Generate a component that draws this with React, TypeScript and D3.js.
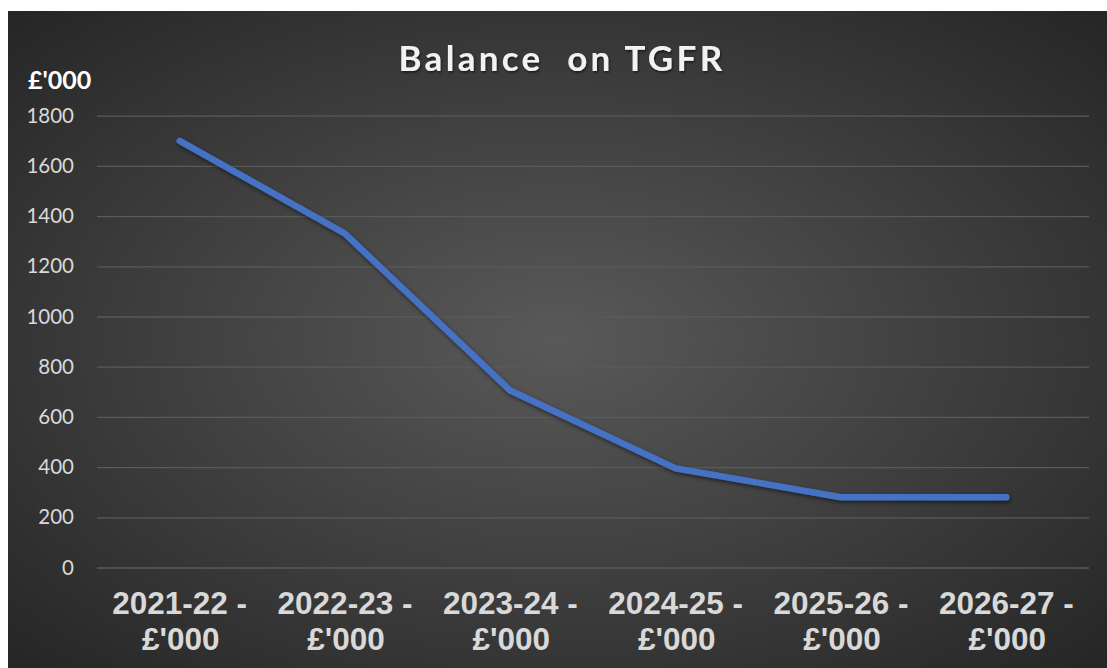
import React, { useEffect, useRef } from 'react';
import * as d3 from 'd3';

const years = ['2021-22', '2022-23', '2023-24', '2024-25', '2025-26', '2026-27'];
const balances = [1700, 1330, 705, 395, 280, 280];
const yTicks = [0, 200, 400, 600, 800, 1000, 1200, 1400, 1600, 1800];

export default function App() {
  const svgRef = useRef<SVGSVGElement>(null);

  useEffect(() => {
    if (!svgRef.current) return;
    const width = 1107;
    const height = 668;
    const frame = { left: 8, top: 11 };
    const plot = { left: 97, right: 1089, top: 115.7, bottom: 567.5 };

    const svg = d3.select(svgRef.current);
    svg.selectAll('*').remove();

    const defs = svg.append('defs');
    const grad = defs.append('radialGradient')
      .attr('id', 'bg')
      .attr('cx', '50%').attr('cy', '50%').attr('r', '70%');
    grad.append('stop').attr('offset', '0%').attr('stop-color', '#595959');
    grad.append('stop').attr('offset', '100%').attr('stop-color', '#262626');

    const shadow = defs.append('filter').attr('id', 'shadow')
      .attr('x', '-10%').attr('y', '-10%').attr('width', '120%').attr('height', '130%');
    shadow.append('feDropShadow')
      .attr('dx', 1).attr('dy', 2).attr('stdDeviation', 2)
      .attr('flood-color', '#000').attr('flood-opacity', 0.55);

    const tshadow = defs.append('filter').attr('id', 'tshadow');
    tshadow.append('feDropShadow')
      .attr('dx', 1).attr('dy', 1.5).attr('stdDeviation', 1.2)
      .attr('flood-color', '#000').attr('flood-opacity', 0.6);

    svg.append('rect')
      .attr('width', width).attr('height', height).attr('fill', '#fff');
    svg.append('rect')
      .attr('x', frame.left).attr('y', frame.top)
      .attr('width', width - frame.left).attr('height', height - frame.top)
      .attr('fill', 'url(#bg)');

    const x = d3.scaleBand()
      .domain(years)
      .range([plot.left, plot.right]);

    const y = d3.scaleLinear()
      .domain([0, 1800])
      .range([plot.bottom, plot.top]);

    // grid lines + y labels
    const yAxis = svg.append('g')
      .attr('transform', `translate(${plot.left},0)`)
      .call(d3.axisLeft(y)
        .tickValues(yTicks)
        .tickFormat(d3.format('d'))
        .tickSize(-(plot.right - plot.left))
        .tickPadding(23)
      );
    yAxis.select('.domain').remove();
    yAxis.selectAll('.tick line')
      .attr('stroke', '#5a5a5a')
      .attr('stroke-width', 1.3);
    yAxis.selectAll('.tick text')
      .style('font-family', "Lato, 'Noto Sans', sans-serif")
      .style('font-size', '20.5px')
      .style('fill', '#d9d9d9');

    // x labels
    const xLabels = svg.append('g');
    years.forEach(yr => {
      const cx = x(yr)! + x.bandwidth() / 2;
      const t = xLabels.append('text')
        .attr('text-anchor', 'middle')
        .style('font-family', "'Liberation Sans', Arial, sans-serif")
        .style('font-weight', 'bold')
        .style('font-size', '31.5px')
        .style('fill', '#d9d9d9');
      t.append('tspan').attr('x', cx).attr('y', 614).text(`${yr} -`);
      t.append('tspan').attr('x', cx + 1).attr('y', 650).text("£'000");
    });

    // line
    const line = d3.line<number>()
      .x((_, i) => x(years[i])! + x.bandwidth() / 2)
      .y(d => y(d));

    svg.append('path')
      .datum(balances)
      .attr('d', line)
      .attr('fill', 'none')
      .attr('stroke', '#4472C4')
      .attr('stroke-width', 6.5)
      .attr('stroke-linecap', 'round')
      .attr('stroke-linejoin', 'round')
      .attr('filter', 'url(#shadow)');

    // title
    svg.append('text')
      .attr('x', 562)
      .attr('y', 71)
      .attr('text-anchor', 'middle')
      .attr('filter', 'url(#tshadow)')
      .style('font-family', "Lato, 'Noto Sans', sans-serif")
      .style('font-weight', 'bold')
      .style('font-size', '35px')
      .style('letter-spacing', '3.3px')
      .style('white-space', 'pre')
      .style('fill', '#f2f2f2')
      .text('Balance  on TGFR');

    // unit label
    svg.append('text')
      .attr('x', 28)
      .attr('y', 89)
      .style('font-family', "Lato, 'Noto Sans', sans-serif")
      .style('font-weight', 'bold')
      .style('font-size', '25px')
      .style('fill', '#ffffff')
      .text("£'000");
  }, []);

  return (
    <svg
      ref={svgRef}
      width={1107}
      height={668}
      style={{ position: 'absolute', left: 0, top: 0, display: 'block' }}
    />
  );
}
